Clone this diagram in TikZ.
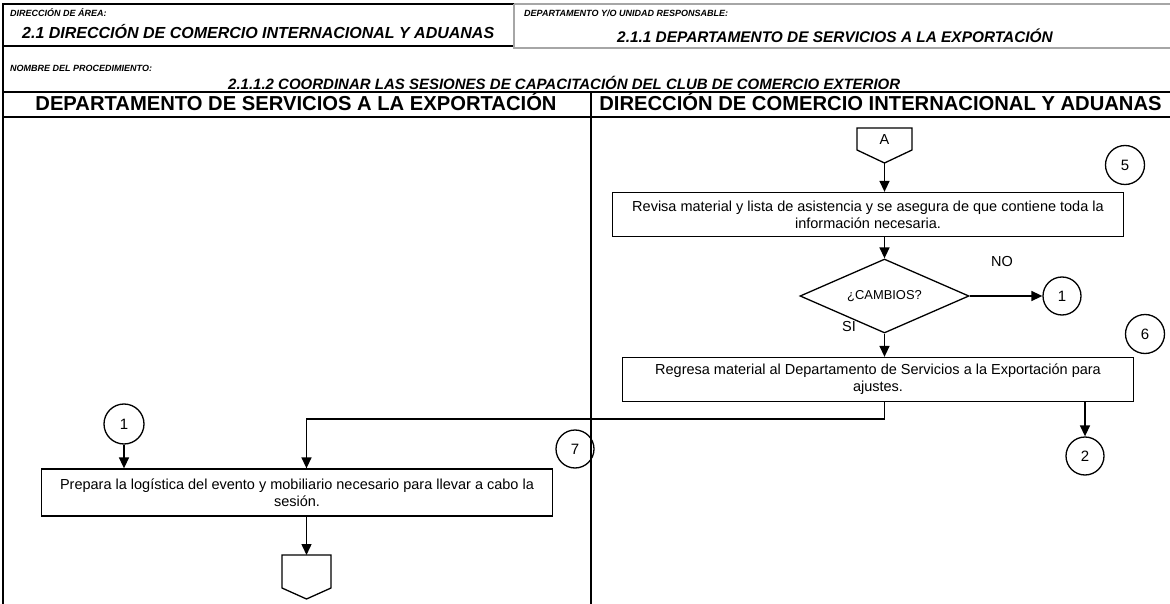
\documentclass[tikz,border=0pt]{standalone}
\usepackage{fontspec}
\setmainfont{Liberation Sans}
\usetikzlibrary{shapes.geometric,arrows.meta}
\begin{document}
\begin{tikzpicture}[x=1pt,y=-1pt,
  frame/.style={line width=1.2pt,black},
  lbl/.style={font=\fontsize{9}{10}\selectfont\bfseries\itshape,anchor=base west,inner sep=0},
  hdr/.style={font=\fontsize{16}{17}\selectfont\bfseries\itshape,anchor=base west,inner sep=0},
  colhdr/.style={font=\fontsize{20.2}{21}\selectfont\bfseries,anchor=base,inner sep=0},
  procbox/.style={draw,line width=1.3pt,minimum width=511pt,minimum height=44pt,align=center,inner sep=0,font=\fontsize{14.5}{17}\selectfont},
  conn/.style={draw,circle,line width=1.3pt,minimum size=39pt,inner sep=0,font=\fontsize{15}{16}\selectfont},
  decis/.style={draw,diamond,line width=1.3pt,aspect=2.28,minimum width=169pt,minimum height=74pt,inner sep=0,font=\fontsize{12.9}{14}\selectfont},
  flow/.style={line width=1.5pt,-{Triangle[length=11pt,width=10pt]}},
  plain/.style={font=\fontsize{14.5}{15}\selectfont,inner sep=0}
]
\useasboundingbox (0,0) rectangle (1170,604);
% header
\draw[frame] (3,4) rectangle (514,46);
\draw[line width=1.8pt,gray!70] (514,4) -- (1172,4) (514,4) -- (514,48) -- (1172,48);
\draw[frame] (3,46) -- (3,606);
\draw[frame] (3,92) -- (1172,92);
\draw[frame] (3,117) -- (1172,117);
\draw[frame] (591,92) -- (591,606);
\node[lbl] (l1) at (10,17) {DIRECCIÓN DE ÁREA:};
\node[hdr] (h1) at (22,39) {2.1 DIRECCIÓN DE COMERCIO INTERNACIONAL Y ADUANAS};
\node[lbl] (l2) at (524,17) {DEPARTAMENTO Y/O UNIDAD RESPONSABLE:};
\node[hdr,font=\fontsize{15.4}{16}\selectfont\bfseries\itshape] (h2) at (617,43) {2.1.1 DEPARTAMENTO DE SERVICIOS A LA EXPORTACIÓN};
\node[lbl] (l3) at (10,72) {NOMBRE DEL PROCEDIMIENTO:};
\node[hdr,font=\fontsize{15}{16}\selectfont\bfseries\itshape] (h3) at (228,89.5) {2.1.1.2 COORDINAR LAS SESIONES DE CAPACITACIÓN DEL CLUB DE COMERCIO EXTERIOR};
\node[colhdr] (c1) at (296,111) {DEPARTAMENTO DE SERVICIOS A LA EXPORTACIÓN};
\node[colhdr] (c2) at (880.5,111) {DIRECCIÓN DE COMERCIO INTERNACIONAL Y ADUANAS};
% off-page connector A
\draw[line width=1.3pt] (857,128) -- (912,128) -- (912,150) -- (884.5,163) -- (857,150) -- cycle;
\node[plain] (A) at (884.5,140) {A};
\coordinate (Atip) at (884.5,163);
% right column
\node[procbox] (r1) at (868,214.5) {Revisa material y lista de asistencia y se asegura de que contiene toda la\\información necesaria.};
\node[conn] (n5) at (1125,165) {5};
\node[decis] (d1) at (884.5,296) {¿CAMBIOS?};
\node[plain] (no) at (1002,262) {NO};
\node[plain] (si) at (849,327) {SI};
\node[conn,minimum size=38pt] (c1r) at (1062,296) {1};
\node[conn] (n6) at (1145,334) {6};
\node[procbox] (r2) at (878,379.5) {Regresa material al Departamento de Servicios a la Exportación para\\ajustes.};
\node[conn,minimum size=38pt] (c2r) at (1085,456) {2};
% left column
\node[conn,minimum size=40pt] (c1l) at (124,424) {1};
\node[conn,minimum size=38pt] (n7) at (575,449) {7};
\node[procbox,minimum height=47pt] (l3b) at (297,492.5) {Prepara la logística del evento y mobiliario necesario para llevar a cabo la\\sesión.};
\draw[line width=1.3pt] (282,555) -- (331,555) -- (331,588) -- (306.5,599) -- (282,588) -- cycle;
\coordinate (Btop) at (306.5,555);
% connectors
\draw[flow] (Atip) -- (r1.north -| Atip);
\draw[flow] (r1.south -| Atip) -- (d1.north);
\draw[flow] (d1.east) -- (c1r.west);
\draw[flow] (d1.south) -- (r2.north -| d1.south);
\draw[flow] (r2.south -| d1.south) -- (884.5,419) -- (306.5,419) -- (l3b.north -| Btop);
\draw[flow] (r2.south -| c2r.north) -- (c2r.north);
\draw[flow] (c1l.south) -- (l3b.north -| c1l.south);
\draw[flow] (l3b.south -| Btop) -- (Btop);
\end{tikzpicture}
\end{document}
